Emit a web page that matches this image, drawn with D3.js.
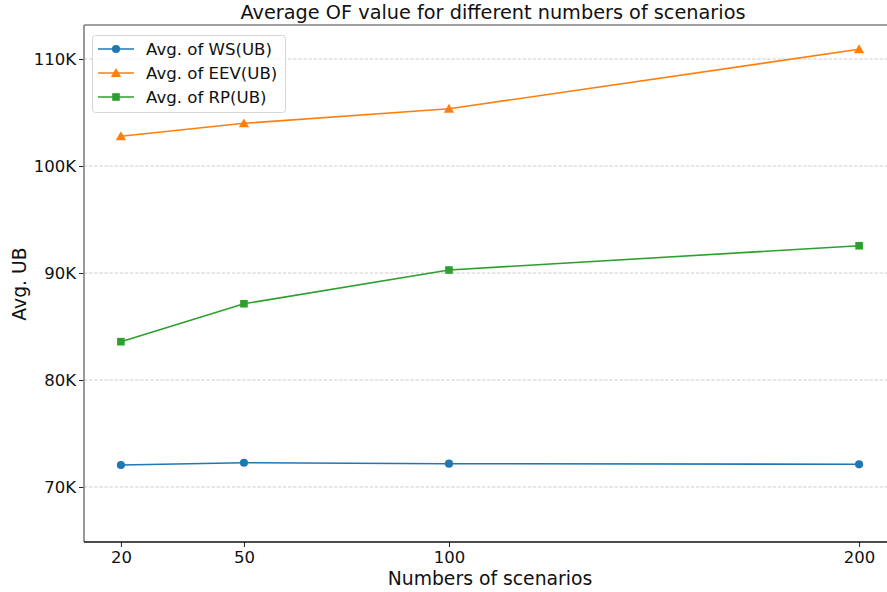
<!DOCTYPE html>
<html>
<head>
<meta charset="utf-8">
<script src="https://cdn.jsdelivr.net/npm/d3@7"></script>
<style>
  html, body { margin: 0; padding: 0; background: #fff; }
  svg { display: block; font-family: "DejaVu Sans", sans-serif; }
</style>
</head>
<body>
<svg id="chart" width="887" height="592"></svg>
<script>
// Scenario counts on the x axis
const scenarios = [20, 50, 100, 200];

// Average upper bound per method (objective function value)
const wsValues  = [72060, 72270, 72180, 72120];
const eevValues = [102780, 103990, 105350, 110910];
const rpValues  = [83580, 87130, 90280, 92550];

const seriesNames = ["Avg. of WS(UB)", "Avg. of EEV(UB)", "Avg. of RP(UB)"];
const yTicks = [70000, 80000, 90000, 100000, 110000];
const yTickLabels = ["70K", "80K", "90K", "100K", "110K"];

const colors = ["#1f77b4", "#ff7f0e", "#2ca02c"];
const markers = [d3.symbolCircle, d3.symbolTriangle, d3.symbolSquare];
const markerSizes = [52, 46, 58];
const series = [wsValues, eevValues, rpValues];

const svg = d3.select("#chart");
const plotLeft = 84, plotRight = 896, plotTop = 25, plotBottom = 542;

const x = d3.scaleLinear().domain([11, 209]).range([plotLeft, plotRight]);
const y = d3.scaleLinear().domain([64860, 113180]).range([plotBottom, plotTop]);

// horizontal grid
svg.append("g").selectAll("line").data(yTicks).join("line")
  .attr("x1", plotLeft).attr("x2", plotRight)
  .attr("y1", d => y(d)).attr("y2", d => y(d))
  .attr("stroke", "#c8c8c8").attr("stroke-width", 0.9)
  .attr("stroke-dasharray", "3.5,1.6");

// y axis
const yAxis = d3.axisLeft(y).tickValues(yTicks)
  .tickFormat((d, i) => yTickLabels[i]).tickSize(5).tickPadding(3);
const gy = svg.append("g").attr("transform", `translate(${plotLeft},0)`).call(yAxis);
gy.select(".domain").remove();
gy.selectAll("line").attr("stroke", "#222").attr("stroke-width", 1);
gy.selectAll("text").attr("font-size", 16.5).attr("fill", "#111")
  .attr("font-family", "DejaVu Sans");

// x axis
const xAxis = d3.axisBottom(x).tickValues(scenarios).tickSize(5).tickPadding(4);
const gx = svg.append("g").attr("transform", `translate(0,${plotBottom})`).call(xAxis);
gx.select(".domain").remove();
gx.selectAll("line").attr("stroke", "#222").attr("stroke-width", 1);
gx.selectAll("text").attr("font-size", 16.5).attr("fill", "#111")
  .attr("font-family", "DejaVu Sans");

// spines
svg.append("line").attr("x1", plotLeft).attr("x2", plotRight).attr("y1", plotTop).attr("y2", plotTop)
  .attr("stroke", "#808080").attr("stroke-width", 1.6);
svg.append("line").attr("x1", plotLeft).attr("x2", plotLeft).attr("y1", plotTop).attr("y2", plotBottom)
  .attr("stroke", "#808080").attr("stroke-width", 1.6);
svg.append("line").attr("x1", plotLeft).attr("x2", plotRight).attr("y1", plotBottom).attr("y2", plotBottom)
  .attr("stroke", "#111").attr("stroke-width", 1.3);

// series lines and markers
const line = d3.line().x((d, i) => x(scenarios[i])).y(d => y(d));
series.forEach((vals, s) => {
  svg.append("path").datum(vals)
    .attr("d", line).attr("fill", "none")
    .attr("stroke", colors[s]).attr("stroke-width", 1.6);
  svg.append("g").selectAll("path").data(vals).join("path")
    .attr("d", d3.symbol().type(markers[s]).size(markerSizes[s]))
    .attr("transform", (d, i) => `translate(${x(scenarios[i])},${y(d) + (s === 1 ? 1 : 0)})`)
    .attr("fill", colors[s]);
});

// title and axis labels
svg.append("text").attr("x", 493).attr("y", 19).attr("text-anchor", "middle")
  .attr("font-size", 19.3).attr("fill", "#111").text("Average OF value for different numbers of scenarios");
svg.append("text").attr("x", 490).attr("y", 585).attr("text-anchor", "middle")
  .attr("font-size", 18.8).attr("fill", "#111").text("Numbers of scenarios");
svg.append("text").attr("transform", "translate(26,284) rotate(-90)").attr("text-anchor", "middle")
  .attr("font-size", 18.8).attr("fill", "#111").text("Avg. UB");

// legend
const lg = svg.append("g");
lg.append("rect").attr("x", 92.5).attr("y", 35.5).attr("width", 193).attr("height", 77)
  .attr("rx", 3).attr("fill", "#fff").attr("fill-opacity", 0.8)
  .attr("stroke", "#d6d6d6").attr("stroke-width", 1);
seriesNames.forEach((name, s) => {
  const cy = 49 + s * 24;
  lg.append("line").attr("x1", 98).attr("x2", 134).attr("y1", cy).attr("y2", cy)
    .attr("stroke", colors[s]).attr("stroke-width", 1.6);
  lg.append("path")
    .attr("d", d3.symbol().type(markers[s]).size(markerSizes[s]))
    .attr("transform", `translate(116,${cy + (s === 1 ? 1 : 0)})`)
    .attr("fill", colors[s]);
  lg.append("text").attr("x", 146).attr("y", cy + 6)
    .attr("font-size", 16.6).attr("fill", "#111").text(name);
});
</script>
</body>
</html>
